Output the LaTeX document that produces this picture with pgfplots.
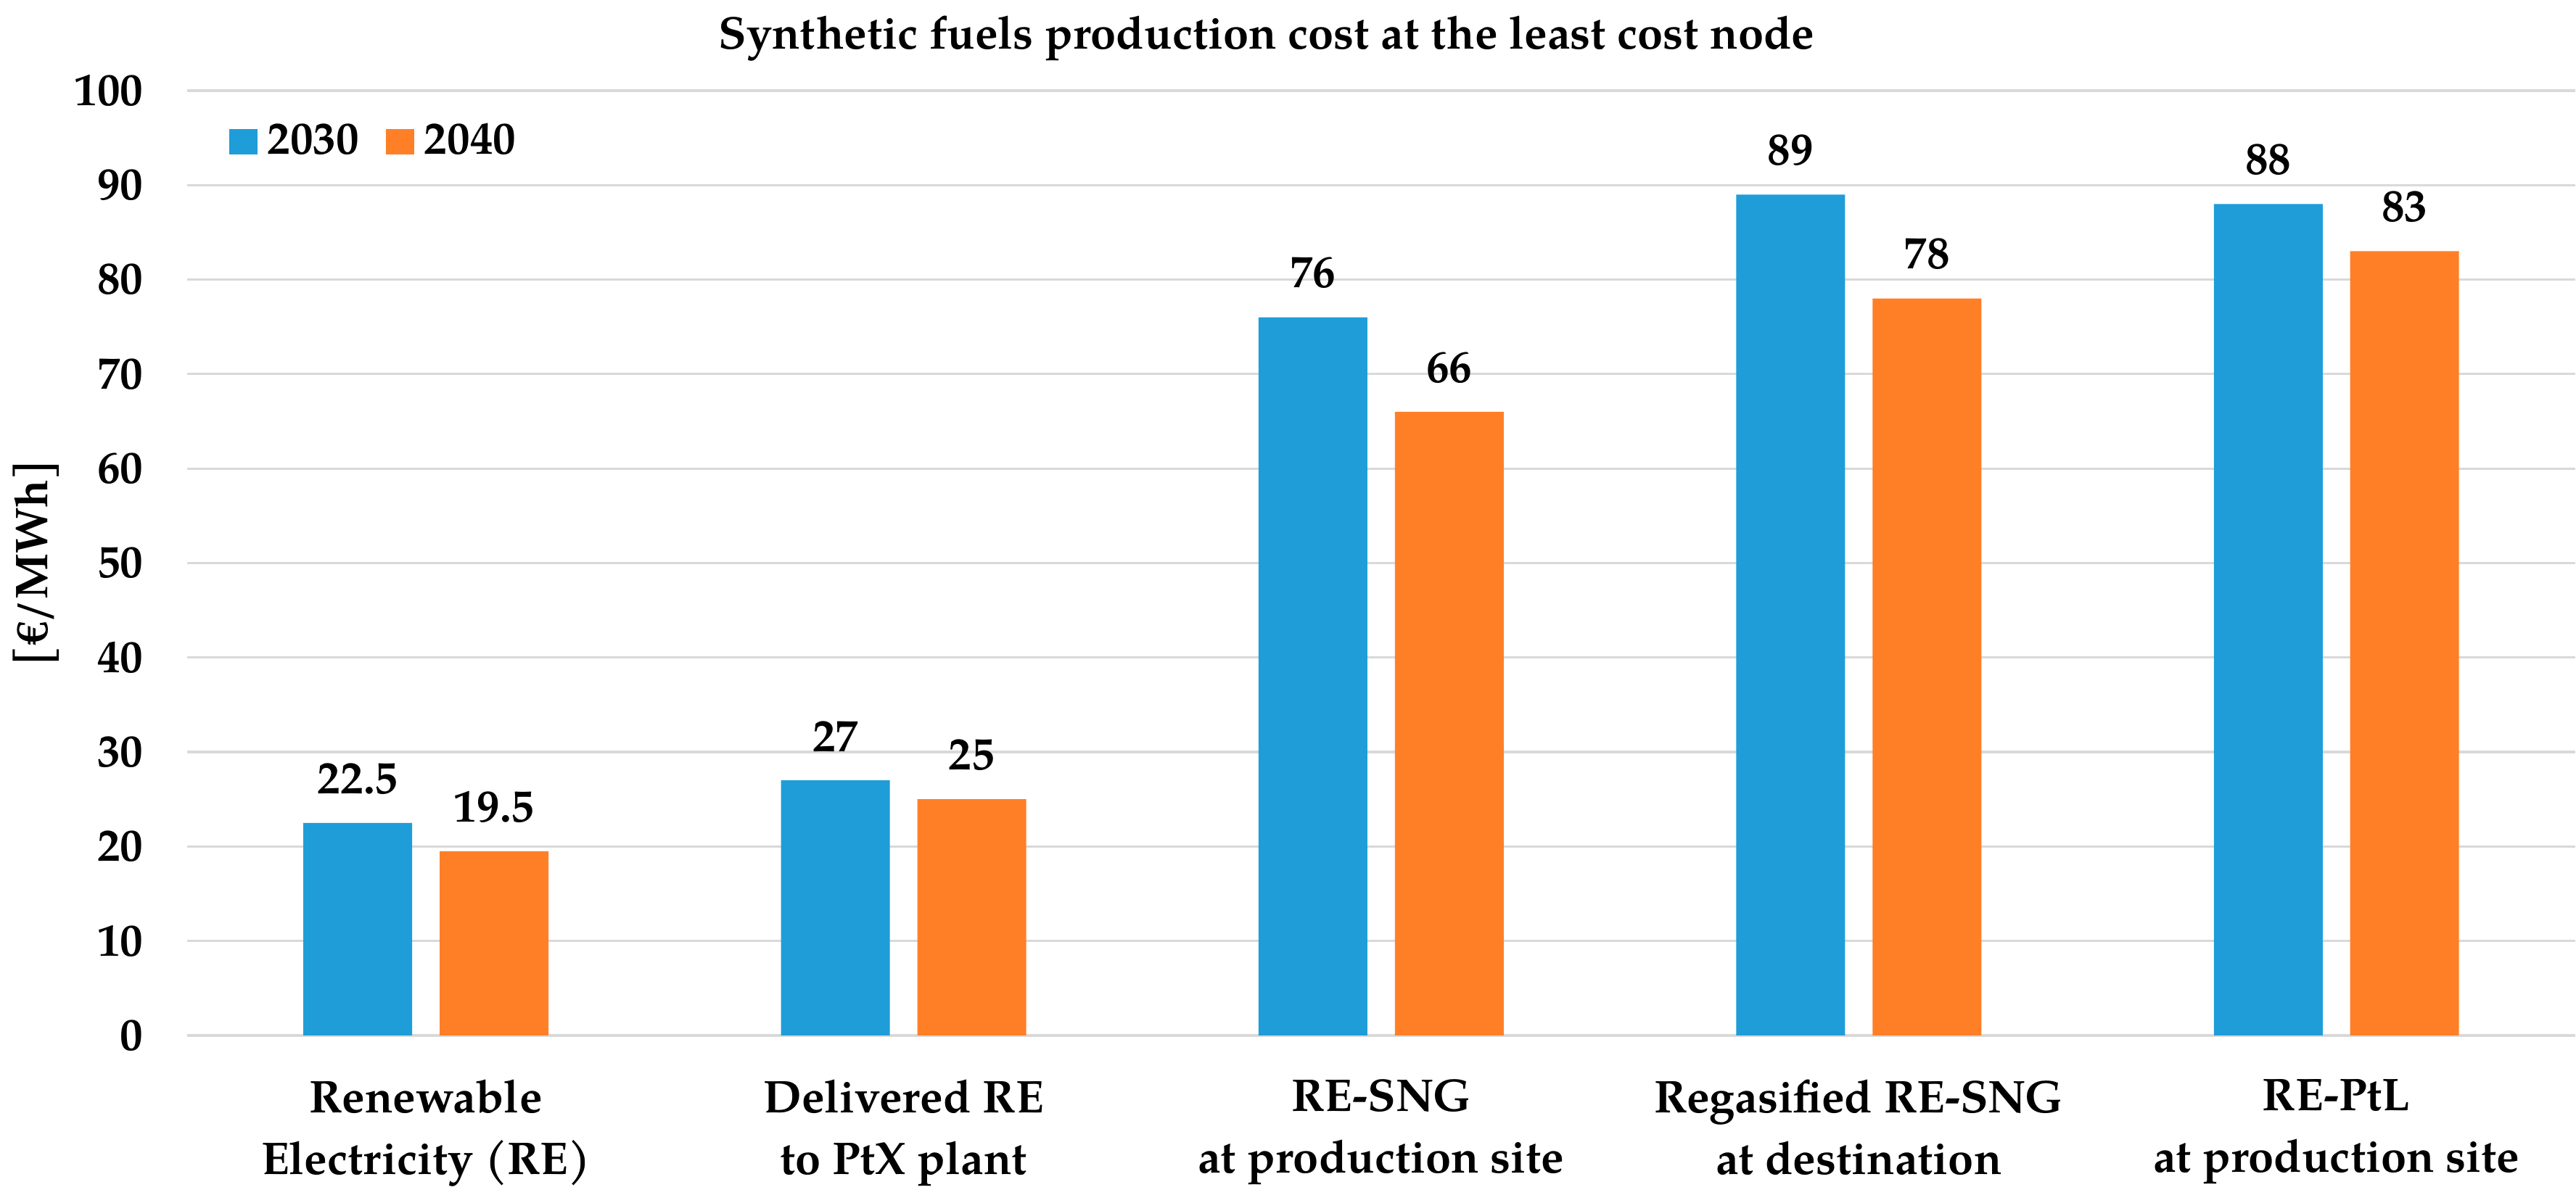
\documentclass[border=0pt]{standalone}
\usepackage{fontspec}
\setmainfont{texgyrepagella}[Extension=.otf, UprightFont=*-regular, BoldFont=*-bold, ItalicFont=*-italic, BoldItalicFont=*-bolditalic]
\usepackage{pgfplots}
\pgfplotsset{compat=1.18}

\definecolor{c2030}{RGB}{30,157,217}
\definecolor{c2040}{RGB}{255,127,39}
\definecolor{gridgray}{RGB}{217,217,217}

\begin{document}
\begin{tikzpicture}
\begin{axis}[
    name=ax,
    scale only axis,
    width=625.48pt, height=247.57pt,
    ybar=7.2pt, bar width=28.5pt,
    xmin=-0.5, xmax=4.5,
    ymin=0, ymax=100,
    ytick={0,10,...,100},
    xtick=data,
    xticklabels={Renewable\\Electricity (RE), Delivered RE\\to PtX plant, RE-SNG\\at production site, Regasified RE-SNG\\at destination, RE-PtL\\at production site},
    /pgf/number format/assume math mode=true,
    font=\bfseries\fontsize{12}{14.4}\selectfont,
    xticklabel style={align=center, font=\bfseries\fontsize{12}{16.15}\selectfont, yshift=-8pt},
    yticklabel style={xshift=-8pt},
    axis line style={draw=none},
    major tick length=0pt,
    ymajorgrids,
    grid style={gridgray, line width=0.6pt},
    title={Synthetic fuels production cost at the least cost node},
    every axis title shift=0pt,
    title style={at={(axis description cs:0.452,1)}, anchor=base, yshift=10.83pt, font=\bfseries\fontsize{12}{14.4}\selectfont},
    ylabel={[€/MWh]},
    ylabel style={at={(axis description cs:-0.0632,0.5)}, anchor=center, font=\bfseries\fontsize{12}{14.4}\selectfont},
    nodes near coords,
    nodes near coords style={font=\bfseries\fontsize{12}{14.4}\selectfont, yshift=4pt},
    legend columns=2,
    legend style={at={(rel axis cs:0.0173,0.946)}, anchor=west, draw=none, fill=none, inner sep=0pt,
        font=\bfseries\fontsize{12}{14.4}\selectfont,
        nodes={inner sep=2.6pt},
        /tikz/every even column/.append style={column sep=4.5pt}},
    legend image code/.code={\fill[#1] (0pt,-3.3pt) rectangle (7.4pt,3.3pt);},
    clip=false,
]
\addplot[fill=c2030, draw=none] coordinates {(0,22.5) (1,27) (2,76) (3,89) (4,88)};
\addlegendentry{2030}
\addplot[fill=c2040, draw=none] coordinates {(0,19.5) (1,25) (2,66) (3,78) (4,83)};
\addlegendentry{2040}
\end{axis}
\pgfresetboundingbox
\path ([shift={(-49.02pt,-43.89pt)}]ax.south west) rectangle ([shift={(625.69pt,271.32pt)}]ax.south west);
\end{tikzpicture}
\end{document}
